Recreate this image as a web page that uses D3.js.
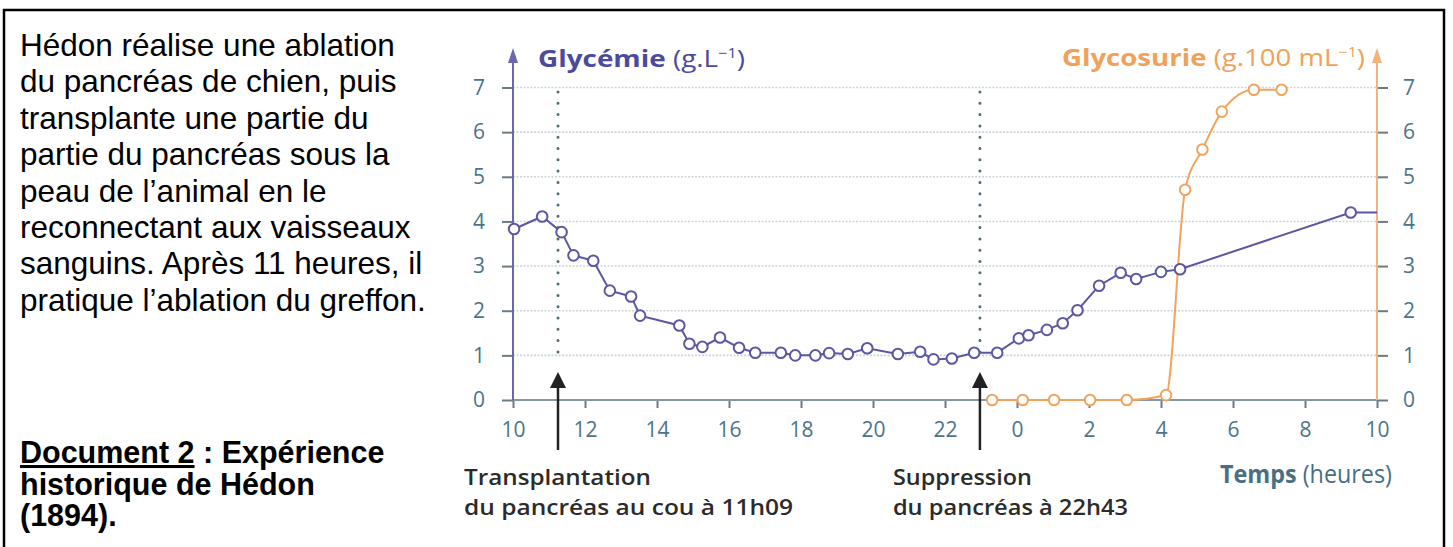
<!DOCTYPE html>
<html>
<head>
<meta charset="utf-8">
<script src="https://cdn.jsdelivr.net/npm/d3@7"></script>
<style>
  body { margin: 0; background: #fff; }
  .chart text { font-family: 'Open Sans', 'Noto Sans', sans-serif; }
  .doc text { font-family: 'Liberation Sans', Arial, sans-serif; }
</style>
</head>
<body>
<div id="chart"></div>
<script>
// hours counted from 10h on day 1 (24 = midnight, 34 = 10h next day)
const glyHours = [10.03, 10.81, 11.35, 11.68, 12.23, 12.69, 13.28, 13.53, 14.62, 14.90,
  15.26, 15.75, 16.28, 16.73, 17.44, 17.84, 18.40, 18.78, 19.30, 19.84,
  20.69, 21.31, 21.68, 22.19, 22.81, 23.45, 24.05, 24.32, 24.83, 25.27,
  25.68, 26.28, 26.88, 27.31, 28.00, 28.53, 33.27]
const glyValues = [3.83, 4.11, 3.76, 3.24, 3.12, 2.45, 2.32, 1.89, 1.67, 1.26,
  1.19, 1.40, 1.17, 1.06, 1.06, 1.00, 1.00, 1.05, 1.03, 1.16,
  1.03, 1.08, 0.91, 0.93, 1.06, 1.06, 1.38, 1.45, 1.57, 1.72,
  2.01, 2.56, 2.85, 2.71, 2.87, 2.93, 4.20]
const glyEndValue = 4.2

const uriHours = [23.31, 24.16, 25.03, 26.03, 27.05, 28.14, 28.67, 29.15, 29.69, 30.58, 31.35]
const uriValues = [0, 0, 0, 0, 0, 0.11, 4.71, 5.61, 6.46, 6.95, 6.95]

const yTicks = [0, 1, 2, 3, 4, 5, 6, 7]
const xTicks = [10, 12, 14, 16, 18, 20, 22, 24, 26, 28, 30, 32, 34]
const xTickLabels = ['10', '12', '14', '16', '18', '20', '22', '0', '2', '4', '6', '8', '10']

const eventHours = [11.25, 22.97]
const eventLabels = [
  ['Transplantation', 'du pancréas au cou à 11h09'],
  ['Suppression', 'du pancréas à 22h43']
]

const introLines = [
  'Hédon réalise une ablation',
  'du pancréas de chien, puis',
  'transplante une partie du',
  'partie du pancréas sous la',
  'peau de l’animal en le',
  'reconnectant aux vaisseaux',
  'sanguins. Après 11 heures, il',
  'pratique l’ablation du greffon.'
]

const purple = '#5b57a2'
const orange = '#f0a45e'
const axisBlue = '#4c7489'

const width = 1453
const height = 547

const svg = d3.select('#chart')
  .append('svg')
  .attr('width', width)
  .attr('height', height)

// frame
svg.append('rect')
  .attr('x', 4).attr('y', 10)
  .attr('width', 1440).attr('height', 560)
  .attr('fill', 'none')
  .attr('stroke', '#000')
  .attr('stroke-width', 2.5)

// left text block
const doc = svg.append('g').attr('class', 'doc')

doc.selectAll('.intro')
  .data(introLines)
  .enter()
  .append('text')
  .attr('class', 'intro')
  .attr('x', 20)
  .attr('y', (d, i) => 56 + i * 36.4)
  .style('font-size', '31.5px')
  .attr('fill', '#000')
  .text(d => d)

const docTitle = doc.append('text')
  .attr('x', 20)
  .attr('y', 463)
  .style('font-size', '30.5px')
  .attr('font-weight', 'bold')
docTitle.append('tspan').style('text-decoration', 'underline').text('Document 2')
docTitle.append('tspan').text(' : Expérience')

doc.append('text')
  .attr('x', 20).attr('y', 495)
  .style('font-size', '30.5px').attr('font-weight', 'bold')
  .text('historique de Hédon')
doc.append('text')
  .attr('x', 20).attr('y', 526)
  .style('font-size', '30.5px').attr('font-weight', 'bold')
  .text('(1894).')

// chart
const chart = svg.append('g').attr('class', 'chart')

const x = d3.scaleLinear().domain([10, 34]).range([513, 1377])
const y = d3.scaleLinear().domain([0, 7]).range([400, 87.5])

// fit a text to a measured width
function fit (sel, w) {
  sel.attr('textLength', w).attr('lengthAdjust', 'spacingAndGlyphs')
}

// grid
chart.selectAll('.grid')
  .data(yTicks.filter(d => d > 0))
  .enter()
  .append('line')
  .attr('class', 'grid')
  .attr('x1', x(10)).attr('x2', x(34))
  .attr('y1', d => y(d)).attr('y2', d => y(d))
  .attr('stroke', '#cdd3d8')
  .attr('stroke-width', 1.6)
  .attr('stroke-dasharray', '2,1.5')

// axes
const leftAxis = chart.append('g')
  .attr('transform', 'translate(' + x(10) + ',0)')
  .call(d3.axisLeft(y).tickValues(yTicks).tickSize(11).tickPadding(17).tickFormat(d3.format('d')))
const rightAxis = chart.append('g')
  .attr('transform', 'translate(' + x(34) + ',0)')
  .call(d3.axisRight(y).tickValues(yTicks).tickSize(11).tickPadding(15).tickFormat(d3.format('d')))
const bottomAxis = chart.append('g')
  .attr('transform', 'translate(0,' + y(0) + ')')
  .call(d3.axisBottom(x).tickValues(xTicks).tickSize(8).tickPadding(14)
    .tickFormat((d, i) => xTickLabels[i]))

;[leftAxis, rightAxis, bottomAxis].forEach(g => {
  g.attr('font-family', null).attr('font-size', null)
  g.select('.domain').remove()
  g.selectAll('.tick line').attr('stroke', '#6c7a84').attr('stroke-width', 2)
  g.selectAll('.tick text')
    .attr('fill', axisBlue)
    .style('font-size', '21px')
})

// zero line
chart.append('line')
  .attr('x1', x(10)).attr('x2', x(34))
  .attr('y1', y(0)).attr('y2', y(0))
  .attr('stroke', '#8499a5')
  .attr('stroke-width', 2.2)

// vertical axes with arrows
function axisArrow (xPos, color) {
  chart.append('line')
    .attr('x1', xPos).attr('x2', xPos)
    .attr('y1', y(0)).attr('y2', 58)
    .attr('stroke', color)
    .attr('stroke-width', 2)
  chart.append('path')
    .attr('d', 'M' + xPos + ',48 L' + (xPos - 5) + ',63 L' + (xPos + 5) + ',63 Z')
    .attr('fill', color)
}
axisArrow(x(10), '#6b67ad')
axisArrow(x(34), '#f2b47c')

// event markers
eventHours.forEach((h, i) => {
  const ex = x(h)
  chart.append('line')
    .attr('x1', ex).attr('x2', ex)
    .attr('y1', 92).attr('y2', 363)
    .attr('stroke', '#4e6b78')
    .attr('stroke-width', 3)
    .attr('stroke-linecap', 'round')
    .attr('stroke-dasharray', '0,11.3')
  chart.append('line')
    .attr('x1', ex).attr('x2', ex)
    .attr('y1', 386).attr('y2', 450)
    .attr('stroke', '#222')
    .attr('stroke-width', 2.5)
  chart.append('path')
    .attr('d', 'M' + ex + ',372 L' + (ex - 8) + ',388 L' + (ex + 8) + ',388 Z')
    .attr('fill', '#222')

  const lx = ex - (i === 0 ? 94 : 87)
  const widths = i === 0 ? [187, 329] : [139, 235]
  eventLabels[i].forEach((t, j) => {
    chart.append('text')
      .attr('x', lx)
      .attr('y', 485 + j * 30)
      .style('font-size', '22px')
      .attr('font-weight', 600)
      .attr('fill', '#2b2b2b')
      .text(t)
      .call(fit, widths[j])
  })
})

// series
const glyPoints = glyHours.map((h, i) => [h, glyValues[i]])
const uriPoints = uriHours.map((h, i) => [h, uriValues[i]])

chart.append('path')
  .datum(glyPoints.concat([[34, glyEndValue]]))
  .attr('fill', 'none')
  .attr('stroke', purple)
  .attr('stroke-width', 2)
  .attr('d', d3.line().x(d => x(d[0])).y(d => y(d[1])))

chart.append('path')
  .datum(uriPoints)
  .attr('fill', 'none')
  .attr('stroke', orange)
  .attr('stroke-width', 2)
  .attr('d', d3.line().curve(d3.curveMonotoneX).x(d => x(d[0])).y(d => y(d[1])))

chart.selectAll('.uri')
  .data(uriPoints)
  .enter()
  .append('circle')
  .attr('class', 'uri')
  .attr('cx', d => x(d[0]))
  .attr('cy', d => y(d[1]))
  .attr('r', 5.3)
  .attr('fill', '#fff')
  .attr('stroke', orange)
  .attr('stroke-width', 2)

chart.selectAll('.gly')
  .data(glyPoints)
  .enter()
  .append('circle')
  .attr('class', 'gly')
  .attr('cx', d => x(d[0]))
  .attr('cy', d => y(d[1]))
  .attr('r', 5.3)
  .attr('fill', '#fff')
  .attr('stroke', purple)
  .attr('stroke-width', 2)

// titles
function title (xPos, yPos, bold, rest, color, w) {
  const t = chart.append('text')
    .attr('x', xPos).attr('y', yPos)
    .style('font-size', '24px')
    .attr('fill', color)
  t.append('tspan').attr('font-weight', 'bold').text(bold)
  t.append('tspan').text(rest)
  t.append('tspan').style('font-size', '14px').attr('dy', -9).text('−1')
  t.append('tspan').attr('dy', 9).text(')')
  fit(t, w)
}
title(538, 67, 'Glycémie', ' (g.L', '#4b4a9c', 207)
title(1062, 66, 'Glycosurie', ' (g.100 mL', '#f0a15a', 303)

const temps = chart.append('text')
  .attr('x', 1220).attr('y', 483)
  .style('font-size', '25px')
  .attr('fill', '#4a6e84')
temps.append('tspan').attr('font-weight', 'bold').text('Temps')
temps.append('tspan').text(' (heures)')
fit(temps, 172)
</script>
</body>
</html>
